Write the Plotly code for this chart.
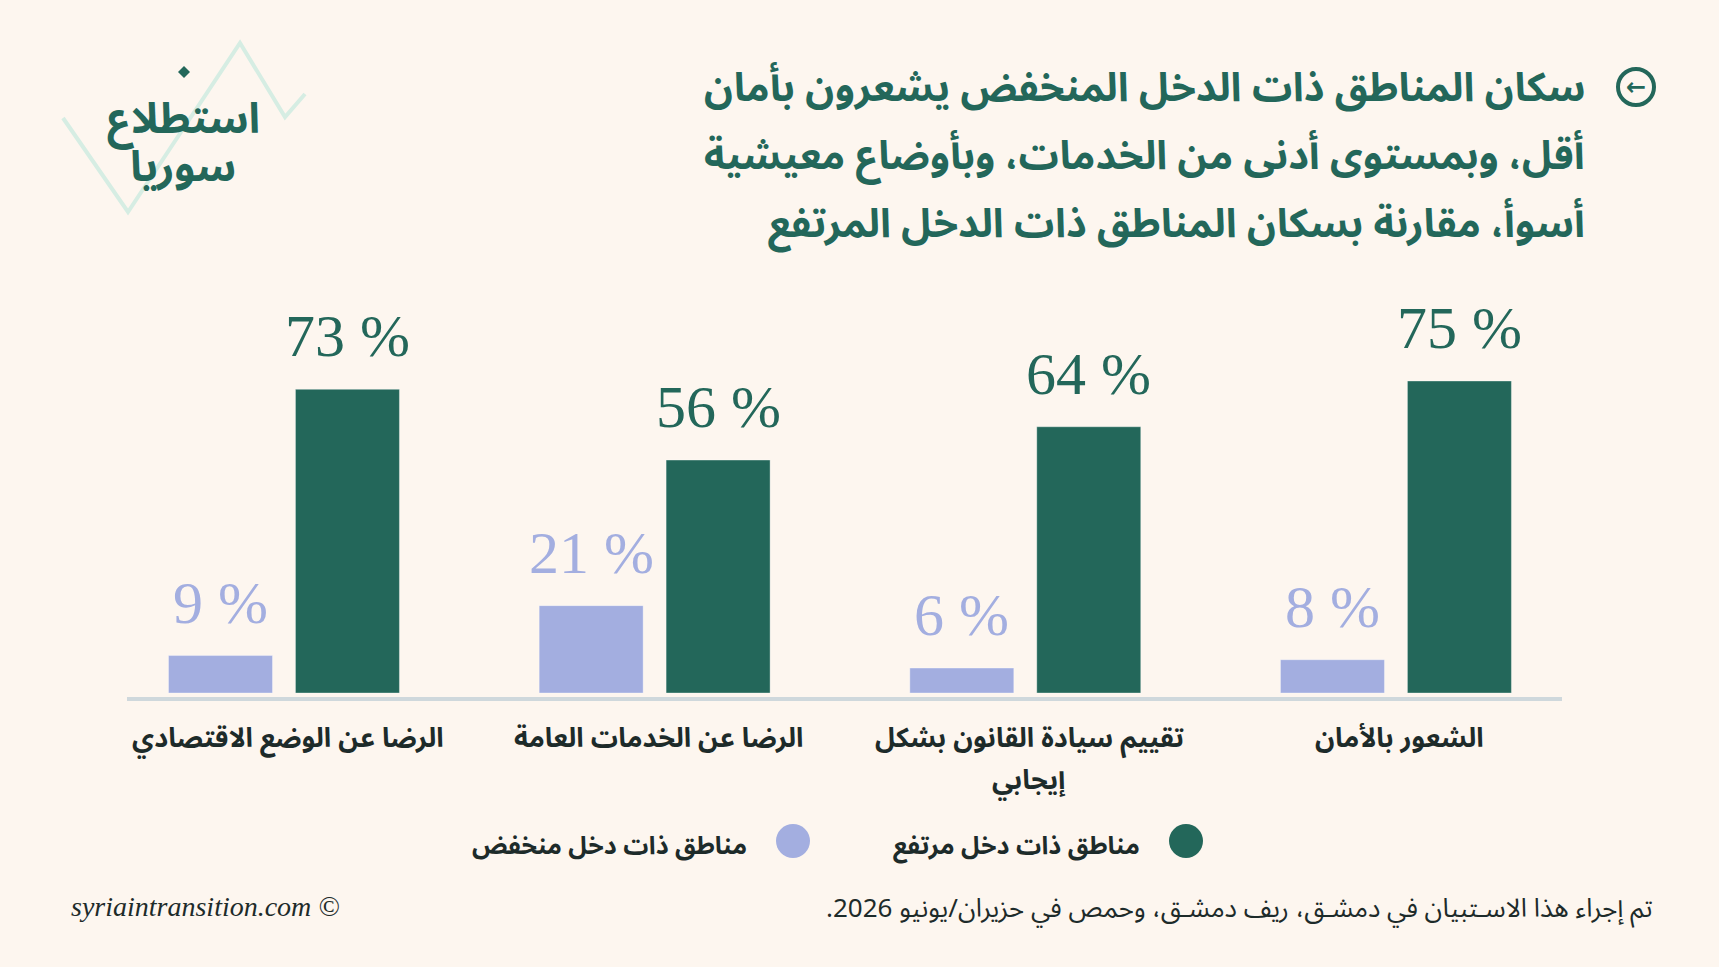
import plotly.graph_objects as go

# ---------------- data ----------------
categories = [
    "الشعور بالأمان",
    "تقييم سيادة القانون بشكل إيجابي",
    "الرضا عن الخدمات العامة",
    "الرضا عن الوضع الاقتصادي",
]
category_lines = [
    ["الشعور بالأمان"],
    ["تقييم سيادة القانون بشكل", "إيجابي"],
    ["الرضا عن الخدمات العامة"],
    ["الرضا عن الوضع الاقتصادي"],
]
high_income = [75, 64, 56, 73]
low_income = [8, 6, 21, 9]
series_names = ["مناطق ذات دخل مرتفع", "مناطق ذات دخل منخفض"]

title_lines = [
    "سكان المناطق ذات الدخل المنخفض يشعرون بأمان",
    "أقل، وبمستوى أدنى من الخدمات، وبأوضاع معيشية",
    "أسوأ، مقارنة بسكان المناطق ذات الدخل المرتفع",
]
logo_lines = ["استطلاع", "سوريا"]
source_text = "تم إجراء هذا الاسـتبيان في دمشـق، ريف دمشـق، وحمص في حزيران/يونيو 2026.\u200f"
credit_text = "syriaintransition.com ©"

# ---------------- style ----------------
BG = "#fdf6ef"
GREEN = "#23675a"
LAV = "#a3aee0"
DARK = "#1d2b2a"
AR_FONT = "Noto Sans Arabic, Noto Naskh Arabic, DejaVu Sans, sans-serif"
NUM_FONT = "Liberation Serif, DejaVu Serif, serif"

W, H = 1719, 967
L, R, T, B = 127, 157, 280, 270
PW, PH = W - L - R, H - T - B
BARGAP, GROUPGAP = 0.315, 0.181


def px(x):
    return (x - L) / PW


def py(y):
    return (H - B - y) / PH


fig = go.Figure()
fig.add_trace(go.Bar(x=categories, y=high_income, name=series_names[0],
                     marker=dict(color=GREEN, line=dict(width=1, color="rgba(255,255,255,0.35)")),
                     hoverinfo="skip"))
fig.add_trace(go.Bar(x=categories, y=low_income, name=series_names[1],
                     marker=dict(color=LAV, line=dict(width=1, color="rgba(255,255,255,0.35)")),
                     hoverinfo="skip"))

annotations = []
shapes = []
half = (1 - BARGAP) / 4  # centre offset of each bar inside its group
for i, cat in enumerate(categories):
    for val, off, col in ((high_income[i], -half, GREEN), (low_income[i], half, LAV)):
        annotations.append(dict(x=i + off, y=val, xref="x", yref="y", text=f"{val} %",
                                showarrow=False, yanchor="bottom", yshift=18,
                                font=dict(family=NUM_FONT, size=60, color=col)))
    for k, line in enumerate(category_lines[i]):
        annotations.append(dict(x=i, y=py(738 + k * 42), xref="x", yref="paper", text=line,
                                showarrow=False, yanchor="middle", xshift=4,
                                font=dict(family=AR_FONT, size=27, color=DARK, weight="bold")))

# title
for k, line in enumerate(title_lines):
    annotations.append(dict(x=px(1587), y=py(88 + k * 68.5), xref="paper", yref="paper", text=line,
                            showarrow=False, xanchor="right", yanchor="middle",
                            font=dict(family=AR_FONT, size=40, color=GREEN, weight="bold")))
# title icon: circled left arrow
shapes.append(dict(type="circle", xref="paper", yref="paper",
                   x0=px(1636 - 18), x1=px(1636 + 18), y0=py(87 + 18), y1=py(87 - 18),
                   line=dict(color=GREEN, width=4)))
annotations.append(dict(x=px(1636), y=py(87), xref="paper", yref="paper", text="<b>←</b>",
                        showarrow=False, xanchor="center", yanchor="middle",
                        font=dict(family="DejaVu Sans", size=24, color=GREEN)))

# logo
zig = [(63, 118), (128, 212), (240, 43), (285, 117), (305, 94)]
path = "M " + " L ".join(f"{px(a)},{py(b)}" for a, b in zig)
shapes.append(dict(type="path", xref="paper", yref="paper", path=path,
                   line=dict(color="#d6ede3", width=4)))
annotations.append(dict(x=px(183), y=py(120), xref="paper", yref="paper", text=logo_lines[0],
                        showarrow=False, xanchor="center", yanchor="middle",
                        font=dict(family=AR_FONT, size=42, color=GREEN, weight="bold")))
annotations.append(dict(x=px(183), y=py(168), xref="paper", yref="paper", text=logo_lines[1],
                        showarrow=False, xanchor="center", yanchor="middle",
                        font=dict(family=AR_FONT, size=42, color=GREEN, weight="bold")))
shapes.append(dict(type="path", xref="paper", yref="paper",
                   path=f"M {px(184)},{py(66)} L {px(190)},{py(72)} L {px(184)},{py(78)} L {px(178)},{py(72)} Z",
                   fillcolor=GREEN, line=dict(width=0)))

# legend (manual, RTL: marker to the right of text)
for name, col, cx, tx in ((series_names[0], GREEN, 1186, 1142), (series_names[1], LAV, 793, 749)):
    shapes.append(dict(type="circle", xref="paper", yref="paper",
                       x0=px(cx - 17), x1=px(cx + 17), y0=py(841 + 17), y1=py(841 - 17),
                       fillcolor=col, line=dict(width=0)))
    annotations.append(dict(x=px(tx), y=py(846), xref="paper", yref="paper", text=name,
                            showarrow=False, xanchor="right", yanchor="middle",
                            font=dict(family=AR_FONT, size=25, color=DARK, weight="bold")))

# footer
annotations.append(dict(x=px(1655), y=py(908), xref="paper", yref="paper", text=source_text,
                        showarrow=False, xanchor="right", yanchor="middle",
                        font=dict(family=AR_FONT, size=26, color=DARK)))
annotations.append(dict(x=px(69), y=py(906), xref="paper", yref="paper", text=credit_text,
                        showarrow=False, xanchor="left", yanchor="middle",
                        font=dict(family=NUM_FONT, size=28, color=DARK, style="italic")))

fig.update_layout(
    width=W, height=H,
    margin=dict(l=L, r=R, t=T, b=B, pad=0),
    paper_bgcolor=BG, plot_bgcolor=BG,
    barmode="group", bargap=BARGAP, bargroupgap=GROUPGAP,
    showlegend=False,
    xaxis=dict(type="category", range=[3.4235, -0.448], showticklabels=False,
               showline=True, linecolor="#cfd8dc", linewidth=4, ticks="",
               showgrid=False, zeroline=False, fixedrange=True),
    yaxis=dict(range=[-0.96, -0.96 + PH / 4.16], visible=False, showgrid=False,
               zeroline=False, fixedrange=True),
    annotations=annotations,
    shapes=shapes,
)

fig.write_html("out.html", config={"displayModeBar": False},
               post_script="document.body.style.margin='0px';document.body.style.background='" + BG + "';")
